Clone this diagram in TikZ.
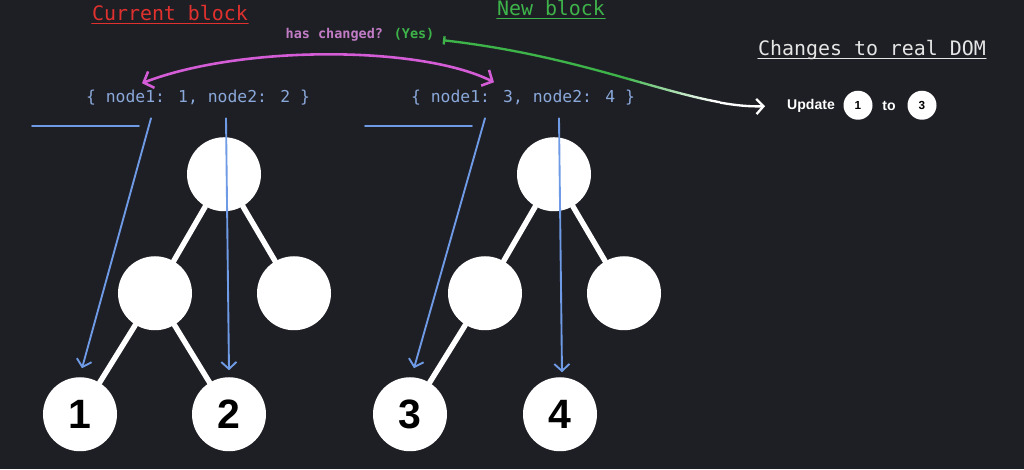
\documentclass[tikz,border=0pt]{standalone}
\usepackage{fontspec}
\usetikzlibrary{arrows.meta}
\newfontfamily\codefont{DejaVu Sans Mono}
\newfontfamily\numfont{Liberation Sans}
\definecolor{bgcol}{HTML}{1E1F24}
\definecolor{ptrblue}{HTML}{6F9BE6}
\definecolor{codeblue}{HTML}{8AA8DA}
\definecolor{curred}{HTML}{E0312F}
\definecolor{newgreen}{HTML}{3DB34A}
\definecolor{askpink}{HTML}{C27CC6}
\definecolor{swappink}{HTML}{D45CD6}
\definecolor{domgray}{HTML}{E6E6E6}

\tikzset{
  treenode/.style={circle,fill=white,minimum size=2.22cm,inner sep=0pt,text=black,
    font=\numfont\bfseries\fontsize{35}{40}\selectfont},
  domnode/.style={circle,fill=white,minimum size=0.87cm,inner sep=0pt,text=black,
    font=\numfont\bfseries\fontsize{10}{12}\selectfont},
  branch/.style={white,line width=4.6pt},
  ptr/.style={ptrblue,line width=1.6pt,-{Straight Barb[length=6pt,width=13pt]}},
  codetext/.style={text=codeblue,font=\codefont\fontsize{14}{16}\selectfont},
  heading/.style={inner sep=0pt,anchor=base,font=\codefont\fontsize{17}{20}\selectfont}
}

\begin{document}
\begin{tikzpicture}[x=0.03cm,y=-0.03cm,line cap=round]
        \fill[bgcol] (0,0) rectangle (1024,469);
        % titles
        \node[heading,text=curred] (curtitle) at (170,20) {Current block};
        \node[heading,text=newgreen] (newtitle) at (551,15) {New block};
        \node[heading,text=domgray] (domtitle) at (872,55) {Changes to real DOM};
        \draw[curred,line width=1pt] ([yshift=-0.09cm]curtitle.base west) -- ([yshift=-0.09cm]curtitle.base east);
        \draw[newgreen,line width=1pt] ([yshift=-0.09cm]newtitle.base west) -- ([yshift=-0.09cm]newtitle.base east);
        \draw[domgray,line width=1pt] ([yshift=-0.09cm]domtitle.base west) -- ([yshift=-0.09cm]domtitle.base east);
        % pointers
        \node[codetext] (codeA) at (198,97) {\{ node1: 1, node2: 2 \}};
        \node[codetext] (codeB) at (523,97) {\{ node1: 3, node2: 4 \}};
        % current tree
        \node[treenode] (rootA) at (224,174) {};
        \node[treenode] (midA) at (155,293) {};
        \node[treenode] (sideA) at (294,293) {};
        \node[treenode] (leafA) at (80,414) {1};
        \node[treenode] (leafB) at (229,414) {2};
        \draw[branch] (rootA) -- (midA);
        \draw[branch] (rootA) -- (sideA);
        \draw[branch] (midA) -- (leafA);
        \draw[branch] (midA) -- (leafB);
        % new tree
        \node[treenode] (rootB) at (554,174) {};
        \node[treenode] (midB) at (485,293) {};
        \node[treenode] (sideB) at (624,293) {};
        \node[treenode] (leafC) at (410,414) {3};
        \node[treenode] (leafD) at (560,414) {4};
        \draw[branch] (rootB) -- (midB);
        \draw[branch] (rootB) -- (sideB);
        \draw[branch] (midB) -- (leafC);
        % blue references
        \coordinate (barA1) at (32,126);  \coordinate (barA2) at (139,126);
        \coordinate (refA1) at (151,118); \coordinate (refA1e) at (82,368);
        \coordinate (refA2) at (226,118); \coordinate (refA2e) at (229,370);
        \coordinate (barB1) at (365,126); \coordinate (barB2) at (472,126);
        \coordinate (refB1) at (485,118); \coordinate (refB1e) at (414,368);
        \coordinate (refB2) at (559,118); \coordinate (refB2e) at (562,372);
        \draw[ptrblue,line width=1.6pt] (barA1) -- (barA2);
        \draw[ptrblue,line width=1.6pt] (barB1) -- (barB2);
        \draw[ptr] (refA1) -- (refA1e);
        \draw[ptr] (refA2) -- (refA2e);
        \draw[ptr] (refB1) -- (refB1e);
        \draw[ptr] (refB2) -- (refB2e);
        % comparison
        \coordinate (swapL) at (142,83); \coordinate (swapR) at (494,82);
        \draw[swappink,line width=2.2pt,{Straight Barb[length=7pt,width=15pt]}-{Straight Barb[length=7pt,width=15pt]}]
                (swapL) .. controls (240,45) and (420,45) .. (swapR);
        \node[inner sep=0pt,font=\codefont\bfseries\fontsize{11.5}{14}\selectfont] (ask) at (360,35)
                {\color{askpink}has changed? \color{newgreen}(Yes)};
        % update real DOM
        \node[text=white,font=\numfont\bfseries\fontsize{12}{14}\selectfont] (upd) at (811,106) {Update};
        \node[domnode] (domA) at (858,105) {1};
        \node[text=white,font=\numfont\bfseries\fontsize{12}{14}\selectfont] (updto) at (889,106) {to};
        \node[domnode] (domB) at (922,105) {3};
        \coordinate (yes) at (443,40);
        \coordinate (dom) at (765,106);
        \begin{scope}
                \clip (400,0) rectangle (620,200);
                \draw[newgreen,line width=2pt,{Bar[width=7pt]}-] (yes) .. controls (600,58) and (690,108) .. (dom);
        \end{scope}
        \foreach \k in {0,...,9} {
                \pgfmathtruncatemacro\mix{100-\k*100/9}
                \begin{scope}
                        \clip (620+\k*10,0) rectangle (630+\k*10,200);
                        \draw[newgreen!\mix!white,line width=2pt] (yes) .. controls (600,58) and (690,108) .. (dom);
                \end{scope}
        }
        \begin{scope}
                \clip (720,0) rectangle (800,200);
                \draw[white,line width=2pt,-{Straight Barb[length=6pt,width=13pt]}] (yes) .. controls (600,58) and (690,108) .. (dom);
        \end{scope}
\end{tikzpicture}
\end{document}
